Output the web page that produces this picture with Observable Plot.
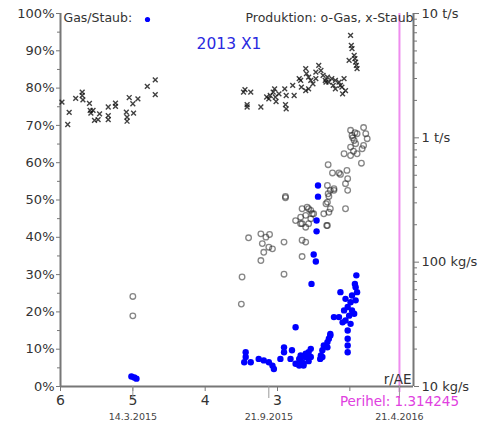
<!DOCTYPE html>
<html>
<head>
<meta charset="utf-8">
<script src="https://cdn.jsdelivr.net/npm/d3@7"></script>
<script src="https://cdn.jsdelivr.net/npm/@observablehq/plot@0.6"></script>
<style>
  html, body { margin: 0; padding: 0; background: #fff; }
  svg { display: block; }
</style>
</head>
<body>
<div id="chart"></div>
<script>
// ---- data ----
const title = "2013 X1";
const legendRatio = "Gas/Staub:";
const legendProd = "Produktion: o-Gas, x-Staub";
const xLabel = "r/AE";
const perihelR = 1.314245;
const xDomain = [6, 1.12];

const xTicks = [6, 5, 4, 3, 2];
const xTickLabels = ["6", "5", "4", "3", ""];
const dateR = [5.0, 3.12, 1.314245];
const dateLabels = ["14.3.2015", "21.9.2015", "21.4.2016"];

const pctTicks = [0, 10, 20, 30, 40, 50, 60, 70, 80, 90, 100];
const pctMinor = [5, 15, 25, 35, 45, 55, 65, 75, 85, 95];

const prodTicksKgs = [10, 100, 1000, 10000];
const prodTickLabels = ["10 kg/s", "100 kg/s", "1 t/s", "10 t/s"];

// dust production (x), r in AE, kg/s
const dustR = [5.98,5.88,5.90,5.79,5.70,5.70,5.69,5.60,5.59,5.58,5.55,5.53,5.48,5.46,5.34,5.34,5.34,5.24,5.24,5.09,5.08,5.08,5.05,5.00,4.99,4.93,4.80,4.69,4.69,
  3.47,3.45,3.37,3.42,3.42,3.23,3.15,3.12,3.10,3.06,3.04,3.03,3.02,2.98,2.90,2.89,2.88,2.88,2.79,2.77,2.70,2.68,2.67,2.61,2.61,2.60,2.57,2.57,2.54,2.51,2.47,2.47,2.43,2.40,2.37,2.34,2.33,2.31,2.29,2.25,2.23,2.20,2.20,2.15,2.13,2.11,2.10,2.08,2.06,
  2.01,1.99,1.98,1.97,1.94,1.93,1.92,1.91,1.90];
const dustKgs = [1940,1600,1280,2075,2330,2190,2020,1890,1660,1580,1660,1380,1400,1560,1770,1510,1400,1900,1790,1610,1470,1360,2110,1880,1580,2060,2590,2930,2230,
  2330,2440,2330,1850,1770,1770,2130,2060,2190,2330,2480,2130,1960,2260,2480,1850,1710,2190,2640,2190,2990,2900,2560,3600,2400,3280,3080,2480,2900,2720,3380,2990,3820,3480,3180,2900,2810,3080,2810,2990,2640,2900,2480,2810,2640,2560,2260,2990,2400,
  4200,6670,5540,5210,4600,4330,4060,3820,3600];

// gas production (o), r in AE, kg/s
const gasR = [5.00,5.00,
  3.50,3.49,3.40,3.23,3.23,3.21,3.19,3.16,3.12,3.11,3.07,2.91,2.91,2.89,2.89,2.75,2.68,2.68,2.66,2.66,2.66,2.66,2.61,2.61,2.61,2.59,2.57,2.57,2.54,2.54,2.52,2.50,
  2.36,2.33,2.32,2.31,2.31,2.31,2.30,2.30,2.29,2.29,2.27,2.27,2.24,2.22,2.22,2.15,2.13,2.06,2.06,2.04,2.03,2.03,
  2.08,1.99,1.99,1.99,1.97,1.96,1.95,1.94,1.93,1.92,1.90,1.90,1.84,1.83,1.81,1.81,1.78,1.76];
const gasKgs = [53,37,
  46,76,157,169,103,141,120,159,132,167,128,145,80,338,330,216,230,204,269,204,150,111,238,191,145,277,269,204,261,223,245,245,
  245,295,197,414,304,197,608,355,338,252,378,269,522,378,390,522,508,428,269,547,469,378,
  745,1150,842,721,1045,1000,780,953,1100,897,1080,745,625,817,1210,869,1080,984];

// gas/dust ratio (blue), r in AE, percent
const ratioR = [5.02,4.98,4.95,
  2.44,2.44,2.46,2.46,2.50,2.47,2.53,
  1.91,1.93,1.92,1.90,1.97,2.06,1.99,1.92,2.13,2.03,2.08,1.97,2.15,2.22,2.06,2.10,2.01,1.94,1.99,2.03,2.03,2.03,2.03,
  2.75,2.27,2.27,2.29,2.31,2.31,2.36,2.38,2.40,2.41,2.38,
  2.54,2.57,2.61,2.68,2.70,2.66,2.64,2.54,2.68,2.70,2.75,2.82,2.80,2.91,2.91,2.96,2.64,2.61,2.57,
  3.44,3.44,3.46,3.37,3.26,3.19,3.12,3.07,3.05];
const ratioPct = [2.7,2.4,2.1,
  53.9,50.9,44.5,41.6,35.4,33.5,27.5,
  29.8,27.5,26.6,25.3,24.4,23.5,22.6,23.1,25.3,21.3,20.4,20.4,18.6,18.6,17.7,17.2,19.0,19.5,16.8,15.0,12.8,11.0,9.2,
  15.9,14.1,13.7,12.8,11.9,10.5,11.0,9.7,8.3,7.4,7.9,
  10.1,9.2,7.9,8.3,7.4,6.5,5.6,7.9,7.0,5.6,6.1,7.4,9.7,10.5,9.2,7.4,6.1,8.8,6.8,
  9.2,7.9,6.5,6.5,7.4,7.0,6.5,5.6,4.7];

// ---- mapping of log production (10 kg/s .. 10 t/s) onto the 0..100 frame ----
const toY = kg => (Math.log10(kg) - 1) / 3 * 100;
const prodMajor = prodTicksKgs.map(toY);
const prodLabelMap = new Map(prodMajor.map((p, i) => [p, prodTickLabels[i]]));
const prodMinor = [];
for (const e of [1, 2, 3]) for (let k = 2; k <= 9; k++) prodMinor.push(toY(k * Math.pow(10, e)));
const xLabelMap = new Map(xTicks.map((t, i) => [t, xTickLabels[i]]));
const dateMap = new Map(dateR.map((t, i) => [t, dateLabels[i]]));

const axisColor = "#777";
const textColor = "#333";

const chart = Plot.plot({
  width: 488,
  height: 427,
  marginLeft: 60,
  marginRight: 75,
  marginTop: 13,
  marginBottom: 41,
  x: {domain: xDomain, axis: null},
  y: {domain: [0, 100], axis: null},
  style: {fontFamily: "DejaVu Sans", background: "#fff", color: textColor},
  marks: [
    // perihelion line
    Plot.ruleX([perihelR], {stroke: "#ee8cee", strokeWidth: 2, insetBottom: -6}),
    // axis lines
    Plot.ruleX([xDomain[0]], {stroke: axisColor, strokeWidth: 2}),
    Plot.ruleX([xDomain[1]], {stroke: axisColor, strokeWidth: 2}),
    Plot.ruleY([0], {stroke: axisColor, strokeWidth: 2}),
    // left % axis
    Plot.axisY(pctTicks, {anchor: "left", tickSize: 4, tickPadding: 2, stroke: axisColor, fill: textColor,
      fontSize: 13, tickFormat: d => d + "%", label: null}),
    Plot.axisY(pctMinor, {anchor: "left", tickSize: 3, stroke: axisColor, tickFormat: () => "", label: null}),
    // right production axis
    Plot.axisY(prodMajor, {anchor: "right", tickSize: 5, tickPadding: 3, stroke: axisColor, fill: textColor,
      fontSize: 13, tickFormat: d => prodLabelMap.get(d), label: null}),
    Plot.axisY(prodMinor, {anchor: "right", tickSize: 3, stroke: axisColor, tickFormat: () => "", label: null}),
    // x axis
    Plot.axisX(xTicks, {anchor: "bottom", tickSize: 5, tickPadding: 4, stroke: axisColor, fill: textColor,
      fontSize: 14, tickFormat: d => xLabelMap.get(d), label: null}),
    // date markers
    Plot.axisX(dateR, {anchor: "bottom", tickSize: 12, tickPadding: 15, stroke: "#999", fill: "#444",
      fontSize: 9.5, tickFormat: d => dateMap.get(d), label: null}),
    // data
    Plot.dot(gasR, {x: gasR, y: gasKgs.map(toY), r: 2.8, stroke: "#222", strokeOpacity: 0.55, strokeWidth: 1.3, fill: "none"}),
    Plot.dot(dustR, {x: dustR, y: dustKgs.map(toY), symbol: "times", r: 2.3, stroke: "#111", strokeOpacity: 0.8, strokeWidth: 1.4}),
    Plot.dot(ratioR, {x: ratioR, y: ratioPct, r: 3.2, fill: "#0000ff", stroke: "none"}),
    // texts
    Plot.text([legendRatio], {frameAnchor: "top-left", dx: 3, dy: 0, lineAnchor: "top", textAnchor: "start",
      fontSize: 12.5, fill: textColor}),
    Plot.dot([legendRatio], {frameAnchor: "top-left", dx: 87, dy: 6, r: 2.6, fill: "#0000ff"}),
    Plot.text([legendProd], {frameAnchor: "top-right", dx: 0, dy: 0, lineAnchor: "top", textAnchor: "end",
      fontSize: 12.5, fill: textColor}),
    Plot.text([title], {frameAnchor: "top", dx: -8, dy: 24, lineAnchor: "top", fontSize: 15.5, fill: "#2a2ae0"}),
    Plot.text([xLabel], {frameAnchor: "bottom-right", dx: -2, dy: -3, lineAnchor: "bottom", textAnchor: "end",
      fontSize: 13.5, fill: textColor}),
    Plot.text([perihelR], {x: d => d, frameAnchor: "bottom", dy: 19, lineAnchor: "bottom",
      text: d => "Perihel: " + d, fontSize: 13.5, fill: "#e040e0"})
  ]
});
document.getElementById("chart").appendChild(chart);
</script>
</body>
</html>
